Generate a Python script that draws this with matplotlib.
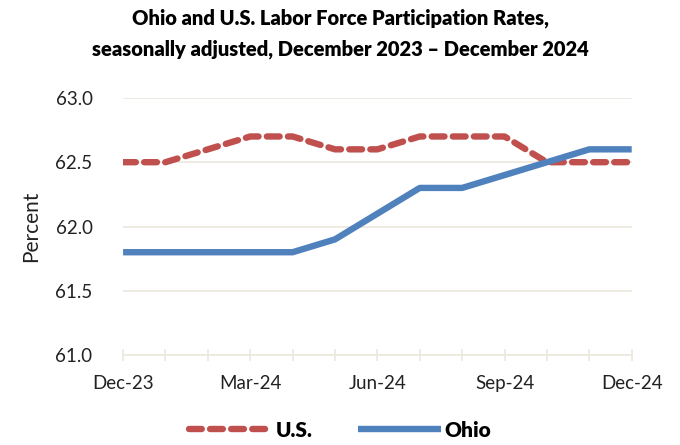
import numpy as np
import matplotlib
matplotlib.use('Agg')
import matplotlib.pyplot as plt
from matplotlib.ticker import MultipleLocator, FixedLocator

months = ['Dec-23', 'Jan-24', 'Feb-24', 'Mar-24', 'Apr-24', 'May-24', 'Jun-24',
          'Jul-24', 'Aug-24', 'Sep-24', 'Oct-24', 'Nov-24', 'Dec-24']
us = [62.5, 62.5, 62.6, 62.7, 62.7, 62.6, 62.6, 62.7, 62.7, 62.7, 62.5, 62.5, 62.5]
ohio = [61.8, 61.8, 61.8, 61.8, 61.8, 61.9, 62.1, 62.3, 62.3, 62.4, 62.5, 62.6, 62.6]

plt.rcParams['font.family'] = ['Lato', 'DejaVu Sans']

fig = plt.figure(figsize=(6.8, 4.45), dpi=100)
ax = fig.add_axes([0.181, 0.202, 0.748, 0.578])

x = np.arange(len(months))
ax.plot(x, us, color='#C0504D', lw=4.6, ls=(0, (2.0, 1.3)), label='U.S.',
        solid_capstyle='butt', dash_capstyle='round')
ax.plot(x, ohio, color='#4F81BD', lw=4.6, label='Ohio', solid_capstyle='butt')

grid_c = '#ECE9DF'
ax.set_ylim(61.0, 63.0)
ax.set_xlim(0, len(months) - 1)
ax.yaxis.set_major_locator(MultipleLocator(0.5))
ax.yaxis.set_major_formatter(matplotlib.ticker.FormatStrFormatter('%.1f'))
ax.set_xticks(x[::3])
ax.set_xticklabels(months[::3])
ax.xaxis.set_minor_locator(FixedLocator(x))
ax.grid(axis='y', color=grid_c, lw=1.3)
ax.set_axisbelow(True)
for s in ['top', 'right', 'left']:
    ax.spines[s].set_visible(False)
ax.spines['bottom'].set_color(grid_c)
ax.spines['bottom'].set_linewidth(1.3)
ax.tick_params(axis='y', length=0, labelsize=13.5, pad=22, colors='#222222')
ax.tick_params(axis='x', which='both', direction='inout', length=9, width=1.3,
               color=grid_c, labelsize=13.5, pad=10, labelcolor='#222222')
ax.set_ylabel('Percent', fontsize=15, color='#222222', labelpad=10)

fig.suptitle('Ohio and U.S. Labor Force Participation Rates,\n'
             'seasonally adjusted, December 2023 \u2013 December 2024',
             fontsize=14.5, fontweight='heavy', y=0.982, x=0.5, linespacing=1.75)

leg = fig.legend(loc='lower center', bbox_to_anchor=(0.5, -0.03), ncol=2,
                 frameon=False, handlelength=4.0, columnspacing=2.2,
                 handletextpad=0.15, prop={'weight': 'heavy', 'size': 15})

fig.savefig('out.png', dpi=100)
